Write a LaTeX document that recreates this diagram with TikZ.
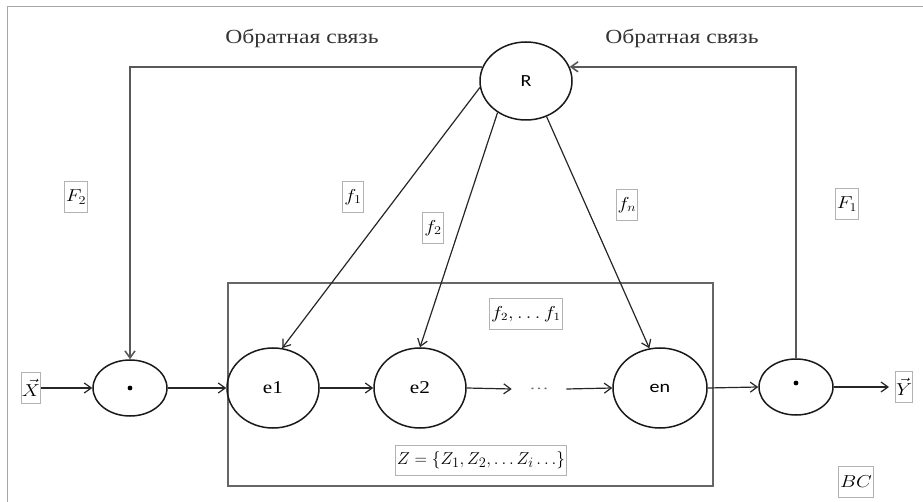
\documentclass[tikz,border=0pt]{standalone}
\usepackage{fontspec}
\setmainfont{Liberation Serif}[FakeStretch=1.18]
\newfontfamily\calib{Carlito}[FakeStretch=1.18]
\usetikzlibrary{arrows.meta,shapes.geometric,calc}
\newcommand\sxx[1]{\scalebox{1.18}[1]{#1}}
\begin{document}
\begin{tikzpicture}[x=1pt,y=-1pt,
  ell/.style={draw=black!90, ellipse, line width=1.5pt, inner sep=0pt, font=\calib\fontsize{17}{20}\selectfont},
  arr/.style={-{Straight Barb[length=7pt,width=10pt]}, line width=1.2pt, draw=black!85},
  fb/.style={line width=1.6pt, draw=black!65},
  lbl/.style={draw=gray!60, line width=1pt, inner xsep=1.5pt, inner ysep=1pt, minimum height=31pt, fill=white, font=\fontsize{18}{20}\selectfont},
  captxt/.style={font=\fontsize{20}{23}\selectfont, text=black!80}]
\useasboundingbox (0,0) rectangle (923,502);
% outer frame
\draw[gray!70, line width=1pt] (923,7) -- (7,7) -- (7,502);
% inner rectangle
\draw[black!60, line width=1.7pt] (228,283) rectangle (713,486);
% nodes
\node[ell, minimum width=92pt, minimum height=78pt] (R) at (526,81) {R};
\node[ell, minimum width=74pt, minimum height=56pt] (M1) at (130,388) {};
\fill (M1.center) circle (2.4pt);
\node[ell, minimum width=92pt, minimum height=80pt, font=\rmfamily\fontsize{18}{20}\selectfont] (e1) at (273,388) {e1};
\node[ell, minimum width=92pt, minimum height=80pt, font=\rmfamily\fontsize{18}{20}\selectfont] (e2) at (420,388) {e2};
\node[font=\fontsize{14}{16}\selectfont, text=black!60] (dots) at (539,389) {\sxx{\dots}};
\node[ell, minimum width=94pt, minimum height=80pt] (en) at (660,388) {en};
\node[ell, minimum width=74pt, minimum height=56pt] (M2) at (796,387) {};
\fill (M2.center) +(0,-4) circle (2.4pt);
% labels
\node[lbl, font=\fontsize{16}{18}\selectfont, inner xsep=0.5pt] (X) at (31,388) {\sxx{$\vec{X}$}};
\node[lbl, font=\fontsize{16}{18}\selectfont, inner xsep=0.5pt] (Y) at (904,387) {\sxx{$\vec{Y}$}};
\node[lbl] (F2) at (76,197) {\sxx{$F_2$}};
\node[lbl] (F1) at (847,204) {\sxx{$F_1$}};
\node[lbl] (f1) at (353,197) {\sxx{$f_1$}};
\node[lbl] (f2) at (433,228) {\sxx{$f_2$}};
\node[lbl] (fn) at (627,205) {\sxx{$f_n$}};
\node[lbl, font=\fontsize{16}{18}\selectfont] (fs) at (526,314) {\sxx{$f_2,\dots f_1$}};
\node[lbl, minimum height=30pt, font=\fontsize{19}{21}\selectfont] (Z) at (481,460) {$Z=\{Z_1,Z_2,\dots Z_i\dots\}$};
\node[lbl, font=\fontsize{17}{19}\selectfont] (BC) at (856,482) {\sxx{$BC$}};
\node[captxt] (t1) at (302,38) {Обратная связь};
\node[captxt] (t2) at (682,38) {Обратная связь};
% flow
\draw[arr] (X.east) -- (M1.west);
\draw[arr] (M1.east) -- (e1.west);
\draw[arr] (e1.east) -- (e2.west);
\draw[arr] (e2.east) -- ($(dots.west)+(-14,0)$);
\draw[arr] ($(dots.east)+(14,0)$) -- (en.west);
\draw[arr] (en.east) -- (M2.west);
\draw[arr] (M2.east) -- ($(Y.west)+(-6,0)$);
% feedback
\draw[fb, -{Straight Barb[length=7pt,width=10pt]}] (R.162) -- (M1.north |- R.162) -- (M1.north);
\draw[fb, -{Straight Barb[length=7pt,width=10pt]}] (M2.north) -- (M2.north |- R.18) -- (R.18);
% control signals
\draw[arr] (R.188) -- (e1.77);
\draw[arr] (R.228) -- (e2.90);
\draw[arr] (R.300) -- (en.105);
\end{tikzpicture}
\end{document}
